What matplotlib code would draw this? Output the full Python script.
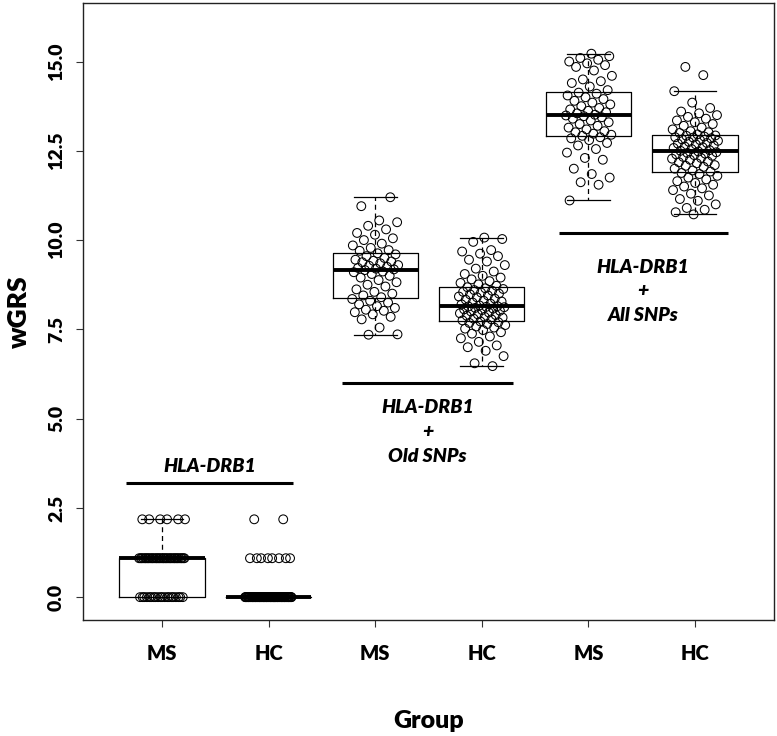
import numpy as np
import matplotlib
matplotlib.use("Agg")
import matplotlib.pyplot as plt

plt.rcParams['font.family'] = ['Lato', 'DejaVu Sans']

# ---------------- data ----------------
group_labels = ["MS", "HC", "MS", "HC", "MS", "HC"]

# HLA-DRB1 only (discrete levels with counts)
drb1_levels = [0.0, 1.09, 2.18]
ms_drb1_counts = [20, 34, 6]
hc_drb1_counts = [70, 8, 2]

# HLA-DRB1 + Old SNPs
ms_old = [7.35, 7.36, 7.55, 7.78, 7.85, 7.92, 7.98, 8.02, 8.05, 8.10, 8.15, 8.20, 8.25, 8.30, 8.35,
          8.40, 8.45, 8.50, 8.55, 8.62, 8.70, 8.75, 8.82, 8.88, 8.95, 9.00, 9.05, 9.10, 9.12, 9.16,
          9.18, 9.20, 9.22, 9.25, 9.28, 9.30, 9.35, 9.38, 9.40, 9.42, 9.45, 9.50, 9.55, 9.60, 9.63,
          9.70, 9.72, 9.78, 9.85, 9.90, 10.00, 10.05, 10.15, 10.20, 10.30, 10.40, 10.50, 10.55, 10.95, 11.20]
hc_old = [6.47, 6.55, 6.75, 6.90, 7.00, 7.05, 7.15, 7.25, 7.30, 7.38, 7.42, 7.48, 7.52, 7.55, 7.58, 7.62, 7.65, 7.68, 7.70, 7.72,
          7.75, 7.78, 7.80, 7.83, 7.85, 7.88, 7.90, 7.92, 7.95, 7.97, 8.00, 8.02, 8.04, 8.06, 8.08, 8.10, 8.12, 8.13, 8.14, 8.15,
          8.17, 8.20, 8.22, 8.25, 8.28, 8.30, 8.33, 8.36, 8.40, 8.42, 8.45, 8.48, 8.50, 8.53, 8.55, 8.58, 8.60, 8.63, 8.65, 8.68,
          8.72, 8.76, 8.80, 8.85, 8.90, 8.95, 9.00, 9.05, 9.12, 9.20, 9.30, 9.40, 9.45, 9.55, 9.62, 9.68, 9.72, 9.95, 10.03, 10.07]

# HLA-DRB1 + All SNPs
ms_all = [11.11, 11.55, 11.62, 11.75, 11.85, 12.00, 12.25, 12.30, 12.45, 12.55, 12.65, 12.72, 12.80, 12.85, 12.88,
          12.92, 12.95, 12.98, 13.02, 13.05, 13.10, 13.15, 13.20, 13.25, 13.30, 13.35, 13.40, 13.44, 13.47, 13.49,
          13.51, 13.55, 13.58, 13.62, 13.66, 13.70, 13.75, 13.80, 13.85, 13.90, 13.95, 14.00, 14.05, 14.10, 14.13,
          14.20, 14.30, 14.40, 14.45, 14.50, 14.60, 14.75, 14.85, 14.90, 14.95, 15.00, 15.05, 15.10, 15.15, 15.22]
hc_all = [10.72, 10.78, 10.85, 10.90, 11.00, 11.10, 11.15, 11.25, 11.30, 11.40, 11.45, 11.50, 11.55, 11.60, 11.65, 11.70, 11.75, 11.80, 11.85, 11.88,
          11.92, 11.95, 12.00, 12.05, 12.08, 12.10, 12.15, 12.18, 12.20, 12.25, 12.28, 12.30, 12.33, 12.36, 12.38, 12.40, 12.42, 12.44, 12.46, 12.48,
          12.50, 12.52, 12.55, 12.58, 12.60, 12.62, 12.65, 12.68, 12.70, 12.72, 12.75, 12.78, 12.80, 12.82, 12.85, 12.87, 12.88, 12.90, 12.92, 12.93,
          12.96, 13.00, 13.02, 13.05, 13.10, 13.15, 13.20, 13.25, 13.30, 13.35, 13.40, 13.45, 13.50, 13.55, 13.60, 13.70, 13.85, 14.17, 14.62, 14.85]

y_ticks = [0.0, 2.5, 5.0, 7.5, 10.0, 12.5, 15.0]
y_tick_labels = ["0.0", "2.5", "5.0", "7.5", "10.0", "12.5", "15.0"]

# --------------- build groups ---------------
ms_drb1 = np.repeat(drb1_levels, ms_drb1_counts)
hc_drb1 = np.repeat(drb1_levels, hc_drb1_counts)
series = [ms_drb1, hc_drb1, np.array(ms_old), np.array(hc_old), np.array(ms_all), np.array(hc_all)]
positions = np.arange(1, len(series) + 1)

fig = plt.figure(figsize=(7.77, 7.36), dpi=100)
ax = fig.add_axes([83 / 777, 1 - 620 / 736, (774 - 83) / 777, (620 - 3) / 736])

bp = ax.boxplot(series, positions=positions, widths=0.8, whis=1.5, showfliers=False,
                patch_artist=False, capwidths=0.4,
                boxprops=dict(color='black', linewidth=0.9),
                whiskerprops=dict(color='black', linewidth=0.9, linestyle=(0, (4, 3))),
                capprops=dict(color='black', linewidth=0.9),
                medianprops=dict(color='black', linewidth=2.8, solid_capstyle='butt'))


def jitter_offsets(n, k):
    phi = 0.6180339887
    return (((np.arange(n) + 1) * phi + k * 0.37) % 1.0 - 0.5) * 0.44


for k, (pos, vals) in enumerate(zip(positions, series)):
    xs = pos + jitter_offsets(len(vals), k)
    ax.scatter(xs, vals, s=40, facecolors='none', edgecolors='black', linewidths=0.75, zorder=3)

ax.set_xlim(0.26, 6.74)
ax.set_ylim(-0.64, 16.64)
ax.set_xticks(positions)
ax.set_xticklabels(group_labels, fontsize=14.5, fontweight='heavy')
ax.set_yticks(y_ticks)
ax.set_yticklabels(y_tick_labels, fontsize=14, fontweight='heavy', rotation=90, va='center')
ax.tick_params(axis='both', length=5, width=0.8, color='#333333')
ax.tick_params(axis='x', pad=12)
ax.tick_params(axis='y', pad=8)
for sp in ax.spines.values():
    sp.set_linewidth(1.0)
    sp.set_color('#222222')

ax.set_ylabel("wGRS", fontsize=19, fontweight='heavy', labelpad=12)
ax.set_xlabel("Group", fontsize=18, fontweight='heavy', labelpad=34)

# --------------- annotations ---------------
ann_kw = dict(ha='center', va='center', fontsize=14, fontweight='heavy', fontstyle='italic')
# HLA-DRB1 only
ax.plot([0.66, 2.23], [3.2, 3.2], color='black', lw=2.2, solid_capstyle='butt')
ax.text(1.45, 3.67, "HLA-DRB1", **ann_kw)
# + Old SNPs
ax.plot([2.69, 4.29], [6.0, 6.0], color='black', lw=2.2, solid_capstyle='butt')
ax.text(3.49, 5.30, "HLA-DRB1", **ann_kw)
ax.text(3.49, 4.63, "+", **ann_kw)
ax.text(3.49, 3.93, "Old SNPs", **ann_kw)
# + All SNPs
ax.plot([4.72, 6.31], [10.21, 10.21], color='black', lw=2.2, solid_capstyle='butt')
ax.text(5.51, 9.23, "HLA-DRB1", **ann_kw)
ax.text(5.51, 8.58, "+", **ann_kw)
ax.text(5.51, 7.88, "All SNPs", **ann_kw)

fig.savefig("out.png", dpi=100)
